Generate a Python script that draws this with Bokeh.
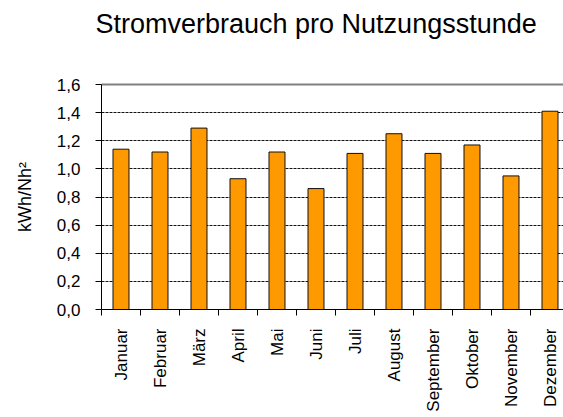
import math
from bokeh.plotting import figure
from bokeh.models import FixedTicker, CustomJSTickFormatter, LinearAxis, Range1d
from bokeh.embed import file_html
from bokeh.resources import INLINE

# ---- data ----
months = ["Januar", "Februar", "März", "April", "Mai", "Juni",
          "Juli", "August", "September", "Oktober", "November", "Dezember"]
values = [1.14, 1.12, 1.29, 0.93, 1.12, 0.86, 1.11, 1.25, 1.11, 1.17, 0.95, 1.41]
y_ticks = [0.0, 0.2, 0.4, 0.6, 0.8, 1.0, 1.2, 1.4, 1.6]
title_text = "Stromverbrauch pro Nutzungsstunde"
y_label = "kWh/Nh²"

FONT = "Liberation Sans"
x_pos = list(range(len(months)))
boundaries = [i - 0.5 for i in range(len(months) + 1)]

W, H = 563, 417
left, top, bottom = 101, 84, 108
frame_w = W - left
slot = 39.0

p = figure(width=W, height=H, output_backend="svg", toolbar_location=None,
           x_range=Range1d(-0.5, -0.5 + frame_w / slot),
           y_range=Range1d(y_ticks[0], y_ticks[-1]),
           min_border_left=left, min_border_right=0,
           min_border_top=top, min_border_bottom=bottom)
p.outline_line_color = None
p.background_fill_color = "white"
p.border_fill_color = "white"

p.vbar(x=x_pos, top=values, width=0.41, fill_color="#FF9900",
       line_color="#111111", line_width=1)

# title
p.title.text = title_text
p.title.text_font = FONT
p.title.text_font_size = "27px"
p.title.text_font_style = "normal"
p.title.text_color = "black"
p.title.align = "left"
p.title.offset = -6
p.title.standoff = 0

# y axis
yax = p.yaxis[0]
yax.ticker = FixedTicker(ticks=y_ticks)
yax.formatter = CustomJSTickFormatter(code="return tick.toFixed(1).replace('.', ',');")
yax.major_label_text_font = FONT
yax.major_label_text_font_size = "17px"
yax.major_label_text_color = "black"
yax.major_label_standoff = 15
yax.major_tick_out = 6
yax.major_tick_in = 0
yax.minor_tick_line_color = None
yax.axis_line_color = "black"
yax.major_tick_line_color = "black"
yax.axis_label = y_label
yax.axis_label_text_font = FONT
yax.axis_label_text_font_size = "18px"
yax.axis_label_text_font_style = "normal"
yax.axis_label_text_color = "black"
yax.axis_label_standoff = 19

# x axis
xax = p.xaxis[0]
xax.ticker = FixedTicker(ticks=x_pos, minor_ticks=boundaries)
xax.formatter = CustomJSTickFormatter(args=dict(labels=months),
                                      code="const i = Math.round(tick); return (i >= 0 && i < labels.length) ? labels[i] : '';")
xax.major_label_orientation = math.pi / 2
xax.major_label_text_font = FONT
xax.major_label_text_font_size = "17px"
xax.major_label_text_color = "black"
xax.major_label_standoff = 13
xax.major_tick_line_color = None
xax.major_tick_out = 6
xax.minor_tick_line_color = "black"
xax.minor_tick_out = 6
xax.minor_tick_in = 0
xax.axis_line_color = "black"

# grid
p.xgrid.grid_line_color = None
p.ygrid.ticker = FixedTicker(ticks=y_ticks)
p.ygrid.grid_line_color = "#111111"
p.ygrid.grid_line_dash = "3 1"
p.ygrid.grid_line_width = 1

# top border of the plot area (also keeps the title away from the frame)
top_axis = LinearAxis(ticker=FixedTicker(ticks=[]), axis_line_color="#808080",
                      axis_line_width=2, major_tick_line_color=None,
                      minor_tick_line_color=None, major_label_text_font_size="0px",
                      major_tick_out=0, major_tick_in=0, major_label_standoff=0,
                      axis_label=" ", axis_label_text_font_size="1px",
                      axis_label_standoff=42)
p.add_layout(top_axis, "above")

open("out.html", "w").write(file_html(p, INLINE))
